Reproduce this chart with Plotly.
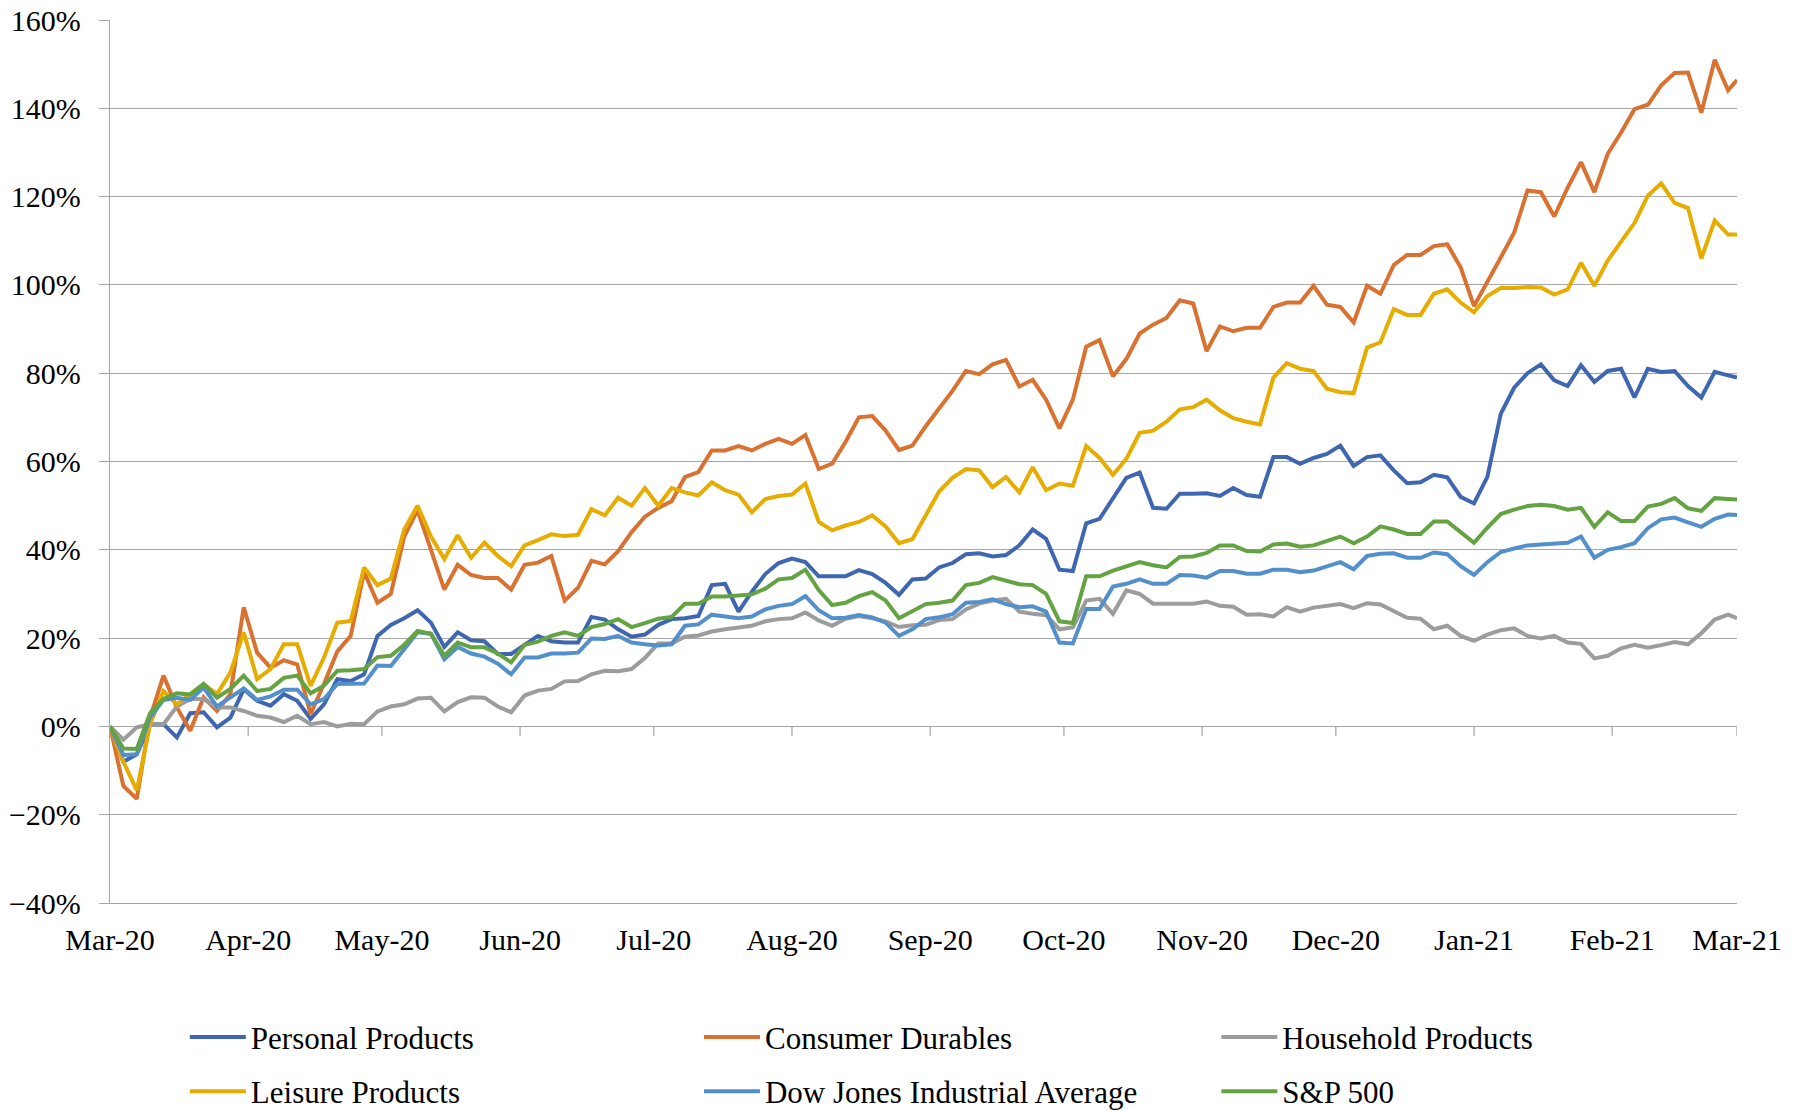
import pandas as pd
import plotly.graph_objects as go

# ---- data (cumulative return, %), sampled every 3 calendar days from 2020-03-16 ----
start_date = "2020-03-16"
day_offsets = list(range(0, 364, 3)) + [365]
dates = pd.to_datetime(start_date) + pd.to_timedelta(day_offsets, unit="D")

tick_labels = ["Mar-20", "Apr-20", "May-20", "Jun-20", "Jul-20", "Aug-20", "Sep-20",
               "Oct-20", "Nov-20", "Dec-20", "Jan-21", "Feb-21", "Mar-21"]

personal = [
    0, -8, -6.3, 0.5, 0.5, -2.5, 3, 3.2, -0.2, 2, 8.4, 5.8, 4.7, 7.3, 5.8, 1.7, 5, 10.7, 10.3, 11.8, 20.5,
    23, 24.5, 26.3, 23.5, 18, 21.3, 19.5, 19.3, 16.4, 16.4, 18.5, 20.5, 19.3, 19, 19, 24.8, 24.2, 22, 20.3, 20.8, 23,
    24.3, 24.5, 25, 32, 32.3, 26, 30.5, 34.5, 37, 38, 37.2, 34, 34, 34, 35.4, 34.5, 32.5, 29.8, 33.3, 33.5,
    36, 37, 39, 39.2, 38.5, 38.8, 41, 44.6, 42.5, 35.5, 35.2, 46, 47, 51.5, 56.3, 57.5, 49.5, 49.3, 52.7, 52.7,
    52.8, 52.2, 54, 52.4, 52, 61, 61, 59.5, 60.8, 61.7, 63.6, 59, 61, 61.4, 58, 55.1, 55.3, 57, 56.4, 52,
    50.5, 56.5, 70.8, 76.7, 80, 82, 78.4, 77.1, 81.8, 78, 80.5, 81, 74.5, 81, 80.3, 80.5, 77.1, 74.5, 80.3, 79.5,
    79]

consumer = [
    0, -13.5, -16.4, 2, 11.5, 4.3, -1, 6.6, 3.5, 7.3, 27, 16.7, 13.3, 15, 14, 2.8, 9.6, 17, 20.5, 35, 28,
    30, 43, 49, 40, 31, 36.6, 34.3, 33.6, 33.6, 31, 36.6, 37.1, 38.6, 28.5, 31.4, 37.5, 36.7, 39.7, 44, 47.5, 49.5,
    51, 56.5, 57.6, 62.5, 62.5, 63.5, 62.5, 64, 65.1, 64, 66, 58.3, 59.5, 64.4, 70, 70.3, 67, 62.6, 63.6, 68,
    72, 76, 80.5, 79.8, 82, 83, 77, 78.5, 74, 67.5, 74, 86, 87.5, 79.3, 83.2, 89, 91, 92.5, 96.5, 95.8,
    85, 90.6, 89.5, 90.3, 90.3, 95, 96, 96, 99.8, 95.5, 95, 91.5, 99.8, 98, 104.5, 106.8, 106.8, 108.8, 109.2, 104,
    95.2, 100.5, 106.2, 111.8, 121.4, 121, 115.5, 122, 127.8, 121, 129.7, 134.5, 139.8, 140.8, 145.2, 148, 148.1, 139, 151, 144.1,
    146.4]

household = [
    0, -3, -0.2, 0.5, 0.5, 4.5, 6.2, 6.2, 4.3, 4.3, 3.5, 2.4, 2, 1, 2.4, 0.5, 1, 0, 0.6, 0.5, 3.4,
    4.5, 5, 6.3, 6.5, 3.4, 5.5, 6.6, 6.5, 4.5, 3.2, 7, 8.1, 8.5, 10.2, 10.3, 11.8, 12.6, 12.5, 13, 15.5, 18.8,
    18.8, 20.3, 20.6, 21.5, 22, 22.5, 22.8, 23.8, 24.3, 24.5, 25.8, 24, 22.8, 24.4, 25, 24.5, 23.8, 22.5, 22.9, 23,
    24.1, 24.3, 26.5, 27.8, 28.5, 28.9, 26, 25.5, 25.2, 22, 22.4, 28.5, 28.9, 25.5, 30.8, 30, 27.8, 27.8, 27.9, 27.8,
    28.3, 27.3, 27.1, 25.3, 25.4, 24.9, 27, 26, 26.9, 27.3, 27.7, 26.8, 27.9, 27.6, 26.2, 24.6, 24.4, 22, 22.8, 20.5,
    19.4, 20.8, 21.8, 22.2, 20.5, 19.9, 20.5, 19, 18.7, 15.4, 16, 17.7, 18.5, 17.8, 18.4, 19.1, 18.6, 21.1, 24.2, 25.3,
    24.5]

leisure = [
    0, -8, -14.5, 0.5, 8, 5, 7.3, 9.6, 7.3, 12.2, 21.3, 10.7, 13, 18.6, 18.6, 9.2, 15.6, 23.5, 23.9, 36, 32,
    33.5, 44.6, 50, 43, 37.9, 43.3, 38.2, 41.6, 38.6, 36.3, 41, 42.2, 43.5, 43.1, 43.4, 49.2, 47.8, 51.8, 50, 54, 50,
    54, 53, 52.3, 55.3, 53.5, 52.5, 48.5, 51.5, 52.2, 52.5, 55, 46.3, 44.4, 45.5, 46.3, 47.8, 45.3, 41.5, 42.4, 48,
    53.2, 56.3, 58.3, 58, 54.2, 56.5, 53, 58.7, 53.5, 55, 54.5, 63.5, 60.8, 57, 60.6, 66.5, 67, 69, 71.8, 72.3,
    74, 71.6, 69.8, 69, 68.4, 79, 82.3, 81, 80.5, 76.5, 75.7, 75.5, 85.8, 87, 94.5, 93.2, 93.2, 98, 99, 96,
    93.8, 97.5, 99.3, 99.3, 99.5, 99.4, 97.8, 99, 105, 99.8, 105.5, 109.8, 114, 120.2, 123, 118.6, 117.4, 106, 114.6, 111.4,
    111.4]

djia = [
    0, -6.5, -6.3, 2, 6, 6.5, 6, 8.8, 4.5, 6.5, 8.6, 6, 6.8, 8.3, 8.3, 5, 6.2, 9.6, 9.6, 9.7, 13.8,
    13.7, 17.5, 21.3, 21, 15.2, 18, 16.5, 15.8, 14.2, 11.8, 15.6, 15.6, 16.5, 16.5, 16.7, 19.9, 19.8, 20.5, 19, 18.6, 18.3,
    18.6, 22.8, 23.1, 25.3, 24.9, 24.5, 24.9, 26.5, 27.3, 27.7, 29.5, 26.3, 24.5, 24.6, 25.2, 24.7, 23.5, 20.5, 22, 24.3,
    24.7, 25.4, 28, 28.2, 28.8, 27.7, 27, 27.2, 26, 19, 18.8, 26.6, 26.6, 31.7, 32.3, 33.3, 32.3, 32.3, 34.3, 34.2,
    33.7, 35.2, 35.2, 34.6, 34.6, 35.5, 35.5, 34.9, 35.3, 36.2, 37.2, 35.6, 38.6, 39.1, 39.2, 38.2, 38.2, 39.4, 39, 36.3,
    34.3, 37.2, 39.5, 40.3, 41, 41.2, 41.5, 41.6, 43, 38.2, 40, 40.6, 41.5, 44.9, 46.9, 47.3, 46.2, 45.2, 47, 48,
    47.9]

sp500 = [
    0, -5, -5.1, 3, 6.2, 7.5, 7.2, 9.6, 6.5, 8.5, 11.5, 8, 8.5, 11, 11.5, 7.5, 9.2, 12.6, 12.7, 13, 15.7,
    16, 18.5, 21.6, 21, 16, 19, 17.9, 17.9, 16.5, 14.5, 18.5, 19.2, 20.5, 21.3, 20.5, 22.5, 23.2, 24.3, 22.5, 23.4, 24.4,
    24.8, 27.8, 27.8, 29.4, 29.4, 29.6, 29.9, 31.2, 33.3, 33.6, 35.5, 30.9, 27.5, 28, 29.5, 30.4, 28.5, 24.5, 26, 27.7,
    28, 28.5, 32, 32.5, 33.8, 33, 32.2, 32, 30, 23.8, 23.4, 34, 34, 35.3, 36.2, 37.2, 36.5, 36, 38.4, 38.5,
    39.3, 41, 41, 39.7, 39.6, 41.2, 41.4, 40.7, 41, 42, 43, 41.5, 43, 45.3, 44.6, 43.6, 43.6, 46.4, 46.4, 44,
    41.6, 45, 48.1, 49.1, 49.9, 50.2, 49.9, 49.1, 49.5, 45.2, 48.5, 46.5, 46.5, 49.8, 50.4, 51.7, 49.4, 48.8, 51.7, 51.5,
    51.4]

series = [
    ("Personal Products", personal, "#3F67B1", "legend"),
    ("Consumer Durables", consumer, "#D97130", "legend2"),
    ("Household Products", household, "#9C9C9C", "legend3"),
    ("Leisure Products", leisure, "#E6AC00", "legend"),
    ("Dow Jones Industrial Average", djia, "#5390CB", "legend2"),
    ("S&P 500", sp500, "#64A342", "legend3"),
]

FONT = "Liberation Serif"
GRID = "#A6A6A6"

fig = go.Figure()
for name, vals, color, leg in series:
    fig.add_trace(go.Scatter(
        x=dates, y=vals, name=name, mode="lines",
        line=dict(color=color, width=4),
        legend=leg, legendgroup=name,
    ))

tickvals = pd.date_range(start_date, periods=len(tick_labels), freq=pd.DateOffset(months=1))

# small tick marks hanging below the 0% line (category axis crossing at zero)
for tv in tickvals:
    fig.add_shape(type="line", xref="x", yref="y", x0=tv, x1=tv, y0=0, y1=-2.1,
                  line=dict(color=GRID, width=1.3), layer="below")

legend_common = dict(orientation="v", xanchor="left", yanchor="top", y=-0.1215,
                     font=dict(family=FONT, size=31, color="black"),
                     bgcolor="rgba(0,0,0,0)", tracegroupgap=11, itemwidth=56)

# the page body adds an 8px offset, so the figure is 8px smaller and margins shifted
fig.update_layout(
    width=1791, height=1103, autosize=False,
    margin=dict(l=102, r=62, t=12, b=208, autoexpand=False),
    paper_bgcolor="white", plot_bgcolor="white",
    font=dict(family=FONT, size=30, color="black"),
    showlegend=True,
    legend=dict(x=0.046, **legend_common),
    legend2=dict(x=0.362, **legend_common),
    legend3=dict(x=0.680, **legend_common),
    xaxis=dict(
        type="date", range=[dates[0], dates[-1]],
        tickmode="array", tickvals=tickvals, ticktext=tick_labels,
        showgrid=False, ticks="", showline=True, linecolor=GRID, linewidth=1.3,
        tickfont=dict(family=FONT, size=30, color="black"),
        ticklabelstandoff=10, zeroline=False, automargin=False,
        ticklabeloverflow="allow",
    ),
    yaxis=dict(
        range=[-40, 160], dtick=20, tick0=0, ticksuffix="%",
        showgrid=True, gridcolor=GRID, gridwidth=1.3,
        zeroline=True, zerolinecolor=GRID, zerolinewidth=1.3,
        showline=True, linecolor=GRID, linewidth=1.3,
        ticks="outside", ticklen=10, tickcolor=GRID, tickwidth=1.3,
        tickfont=dict(family=FONT, size=30, color="black"),
        ticklabelstandoff=12, automargin=False, ticklabeloverflow="allow",
    ),
)

fig.write_html("out.html")
